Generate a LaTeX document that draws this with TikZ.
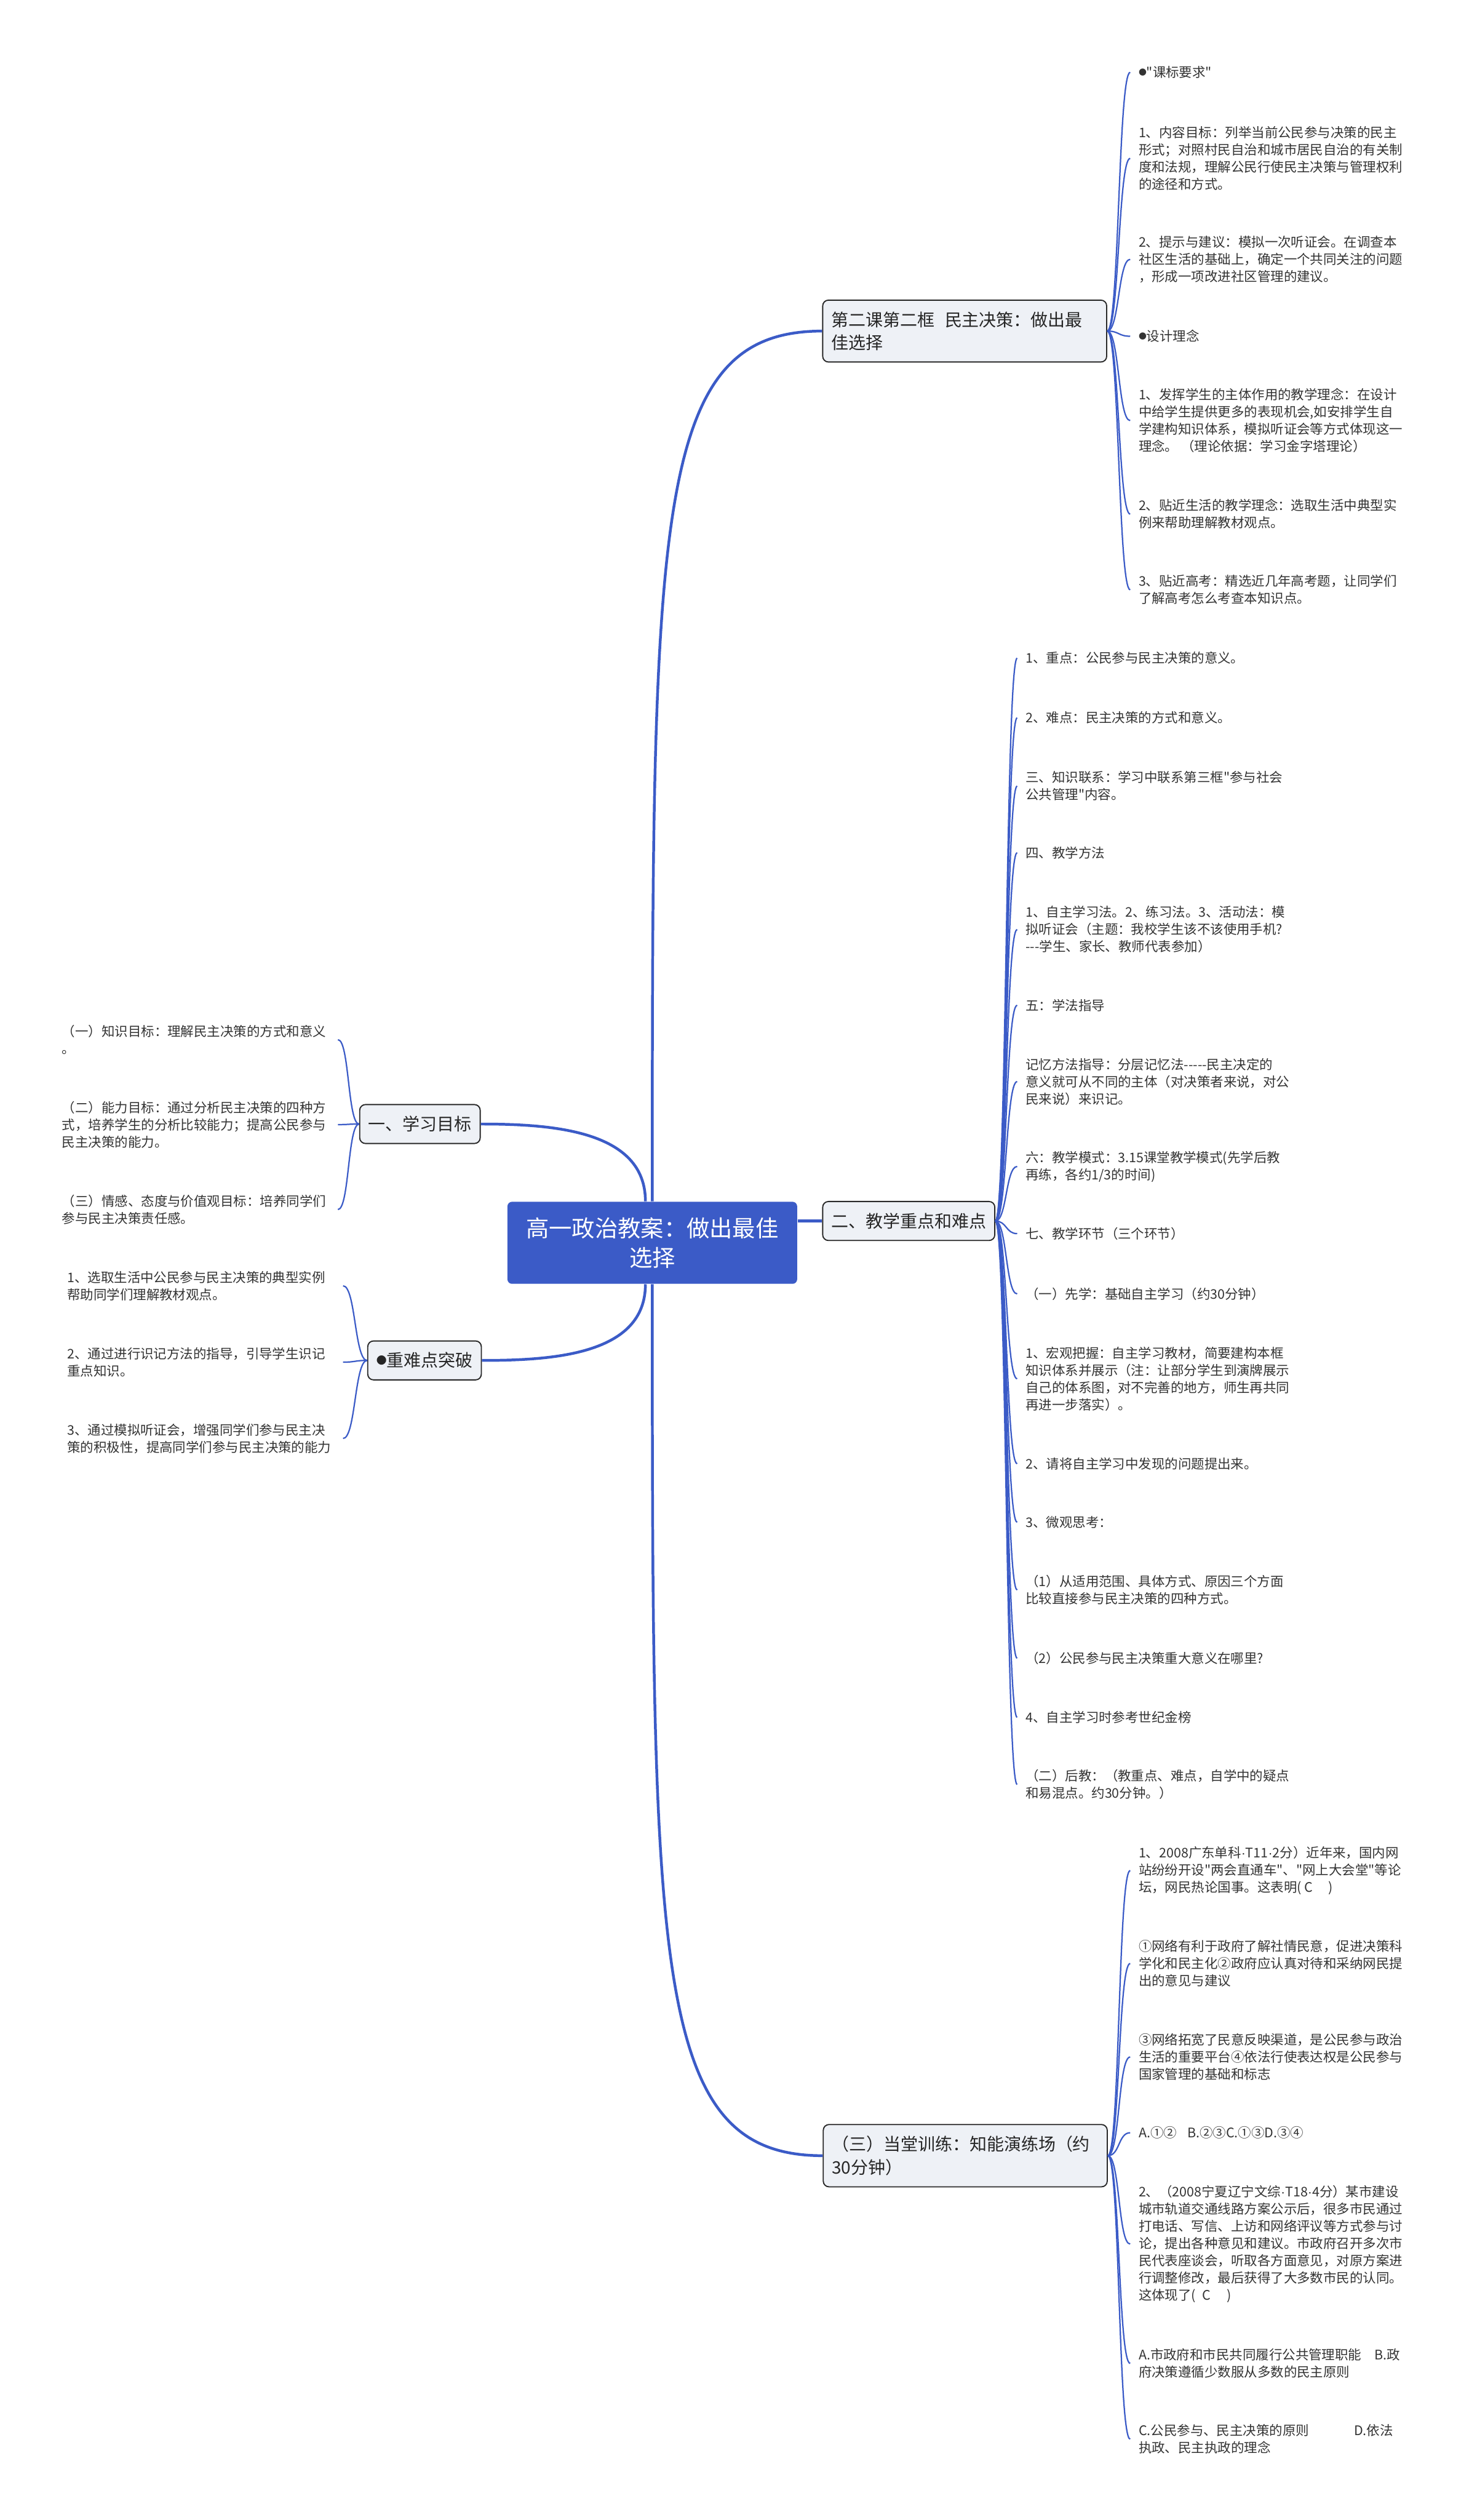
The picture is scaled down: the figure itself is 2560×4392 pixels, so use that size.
\documentclass[tikz,border=0pt]{standalone}
\usepackage{fontspec}
\setmainfont{Noto Sans CJK SC}[Ligatures=TeXOff]
\newfontfamily\latinfont{Liberation Sans}
\usepackage{xcolor}
\usepackage{tikz}
\definecolor{mapblue}{RGB}{59,91,199}
\definecolor{boxfill}{RGB}{238,241,246}
\definecolor{boxline}{RGB}{40,40,40}
\definecolor{leaftext}{RGB}{51,51,51}
\newcommand{\dotmark}{\raisebox{0.15em}{\scalebox{0.6}{●}}}
\newcommand{\mdot}{{\latinfont ·}}
\tikzstyle{mainbox} = [rectangle, rounded corners=2pt, minimum width=126.25pt, minimum height=35.75pt, align=center, fill=mapblue, text=white, font=\fontsize{10pt}{13pt}\selectfont]
\tikzstyle{topicbox} = [rectangle, rounded corners=2.5pt, inner xsep=3.75pt, inner ysep=5pt, align=left, draw=boxline, line width=0.5pt, fill=boxfill, text=black!85, font=\fontsize{7.5pt}{10pt}\selectfont]
\tikzstyle{leafnote} = [inner xsep=3.5pt, inner ysep=2pt, align=left, text=leaftext, font=\fontsize{5.75pt}{7.5pt}\selectfont]
\tikzstyle{limb} = [mapblue, line width=1.2pt]
\tikzstyle{twig} = [mapblue, line width=0.6pt]

\begin{document}
\begin{tikzpicture}[x=0.25pt, y=-0.25pt]

\fill [white] (0,0) rectangle (2560,4392);
\useasboundingbox (0,0) rectangle (2560,4392);

\node (main) [mainbox] at (1137,2166) {高一政治教案：做出最佳\\选择};
\node (lesson) [topicbox, text width=116.25pt, anchor=west] at (1433,577) {第二课第二框\hspace{0.6em}民主决策：做出最\\佳选择};
\node (focus) [topicbox, anchor=west] at (1433,2128) {二、教学重点和难点};
\node (drill) [topicbox, text width=116.25pt, anchor=west] at (1434,3757) {（三）当堂训练：知能演练场（约\\30分钟）};
\node (goals) [topicbox, anchor=east] at (838,1959) {一、学习目标};
\node (keys) [topicbox, anchor=east] at (840,2371) {\dotmark 重难点突破};

\node (l1a) [leafnote, anchor=west] at (1970,126) {\dotmark"课标要求"};
\node (l1b) [leafnote, anchor=west] at (1970,276) {1、内容目标：列举当前公民参与决策的民主\\形式；对照村民自治和城市居民自治的有关制\\度和法规，理解公民行使民主决策与管理权利\\的途径和方式。};
\node (l1c) [leafnote, anchor=west] at (1970,452) {2、提示与建议：模拟一次听证会。在调查本\\社区生活的基础上，确定一个共同关注的问题\\，形成一项改进社区管理的建议。};
\node (l1d) [leafnote, anchor=west] at (1970,586) {\dotmark 设计理念};
\node (l1e) [leafnote, anchor=west] at (1970,733) {1、发挥学生的主体作用的教学理念：在设计\\中给学生提供更多的表现机会,如安排学生自\\学建构知识体系，模拟听证会等方式体现这一\\理念。 （理论依据：学习金字塔理论）};
\node (l1f) [leafnote, anchor=west] at (1970,896) {2、贴近生活的教学理念：选取生活中典型实\\例来帮助理解教材观点。};
\node (l1g) [leafnote, anchor=west] at (1970,1028) {3、贴近高考：精选近几年高考题，让同学们\\了解高考怎么考查本知识点。};

\node (l2a) [leafnote, anchor=west] at (1773,1147) {1、重点：公民参与民主决策的意义。};
\node (l2b) [leafnote, anchor=west] at (1773,1251) {2、难点：民主决策的方式和意义。};
\node (l2c) [leafnote, anchor=west] at (1773,1370) {三、知识联系：学习中联系第三框"参与社会\\公共管理"内容。};
\node (l2d) [leafnote, anchor=west] at (1773,1486) {四、教学方法};
\node (l2e) [leafnote, anchor=west] at (1773,1620) {1、自主学习法。2、练习法。3、活动法：模\\拟听证会（主题：我校学生该不该使用手机?\\---学生、家长、教师代表参加）};
\node (l2f) [leafnote, anchor=west] at (1773,1752) {五：学法指导};
\node (l2g) [leafnote, anchor=west] at (1773,1885) {记忆方法指导：分层记忆法-----民主决定的\\意义就可从不同的主体（对决策者来说，对公\\民来说）来识记。};
\node (l2h) [leafnote, anchor=west] at (1773,2033) {六：教学模式：3.15课堂教学模式(先学后教\\再练，各约1/3的时间)};
\node (l2i) [leafnote, anchor=west] at (1773,2150) {七、教学环节（三个环节）};
\node (l2j) [leafnote, anchor=west] at (1773,2255) {（一）先学：基础自主学习（约30分钟）};
\node (l2k) [leafnote, anchor=west] at (1773,2403) {1、宏观把握：自主学习教材，简要建构本框\\知识体系并展示（注：让部分学生到演牌展示\\自己的体系图，对不完善的地方，师生再共同\\再进一步落实）。};
\node (l2l) [leafnote, anchor=west] at (1773,2551) {2、请将自主学习中发现的问题提出来。};
\node (l2m) [leafnote, anchor=west] at (1773,2653) {3、微观思考：};
\node (l2n) [leafnote, anchor=west] at (1773,2771) {（1）从适用范围、具体方式、原因三个方面\\比较直接参与民主决策的四种方式。};
\node (l2o) [leafnote, anchor=west] at (1773,2890) {（2）公民参与民主决策重大意义在哪里?};
\node (l2p) [leafnote, anchor=west] at (1773,2993) {4、自主学习时参考世纪金榜};
\node (l2q) [leafnote, anchor=west] at (1773,3110) {（二）后教：（教重点、难点，自学中的疑点\\和易混点。约30分钟。）};

\node (l3a) [leafnote, anchor=west] at (1970,3260) {1、2008广东单科\mdot T11\mdot 2分）近年来，国内网\\站纷纷开设"两会直通车"、"网上大会堂"等论\\坛，网民热论国事。这表明( C\hspace{1.2em})};
\node (l3b) [leafnote, anchor=west] at (1970,3422) {①网络有利于政府了解社情民意，促进决策科\\学化和民主化②政府应认真对待和采纳网民提\\出的意见与建议};
\node (l3c) [leafnote, anchor=west] at (1970,3585) {③网络拓宽了民意反映渠道，是公民参与政治\\生活的重要平台④依法行使表达权是公民参与\\国家管理的基础和标志};
\node (l3d) [leafnote, anchor=west] at (1970,3717) {A.①②\hspace{0.8em}B.②③C.①③D.③④};
\node (l3e) [leafnote, anchor=west] at (1970,3911) {2、（2008宁夏辽宁文综\mdot T18\mdot 4分）某市建设\\城市轨道交通线路方案公示后，很多市民通过\\打电话、写信、上访和网络评议等方式参与讨\\论，提出各种意见和建议。市政府召开多次市\\民代表座谈会，听取各方面意见，对原方案进\\行调整修改，最后获得了大多数市民的认同。\\这体现了(\hspace{0.5em}C\hspace{1.2em})};
\node (l3f) [leafnote, anchor=west] at (1970,4119) {A.市政府和市民共同履行公共管理职能\hspace{1em}B.政\\府决策遵循少数服从多数的民主原则};
\node (l3g) [leafnote, anchor=west] at (1970,4251) {C.公民参与、民主决策的原则\hspace{3.4em}D.依法\\执政、民主执政的理念};

\node (g1) [leafnote, text width=116.5pt, anchor=east] at (589,1812) {（一）知识目标：理解民主决策的方式和意义\\。};
\node (g2) [leafnote, text width=116.5pt, anchor=east] at (589,1960) {（二）能力目标：通过分析民主决策的四种方\\式，培养学生的分析比较能力；提高公民参与\\民主决策的能力。};
\node (g3) [leafnote, text width=116.5pt, anchor=east] at (589,2108) {（三）情感、态度与价值观目标：培养同学们\\参与民主决策责任感。};
\node (k1) [leafnote, text width=116.5pt, anchor=east] at (598,2241) {1、选取生活中公民参与民主决策的典型实例\\帮助同学们理解教材观点。};
\node (k2) [leafnote, text width=116.5pt, anchor=east] at (598,2374) {2、通过进行识记方法的指导，引导学生识记\\重点知识。};
\node (k3) [leafnote, text width=116.5pt, anchor=east] at (598,2507) {3、通过模拟听证会，增强同学们参与民主决\\策的积极性，提高同学们参与民主决策的能力};

\draw [limb] (main.north) .. controls +(0,-1195) and (main.north |- lesson.west) .. (lesson.west);
\draw [limb] (main.east |- focus.west) -- (focus.west);
\draw [limb] (main.south) .. controls +(0,1196) and (main.south |- drill.west) .. (drill.west);
\draw [limb] ([xshift=-3pt]main.north) to[out=90,in=0] (goals.east);
\draw [limb] ([xshift=-3pt]main.south) to[out=-90,in=0] (keys.east);

\draw [twig] (lesson.east) .. controls +(21,0) and +(-21,0) .. (l1a.west);
\draw [twig] (lesson.east) .. controls +(21,0) and +(-21,0) .. (l1b.west);
\draw [twig] (lesson.east) .. controls +(21,0) and +(-21,0) .. (l1c.west);
\draw [twig] (lesson.east) .. controls +(21,0) and +(-21,0) .. (l1d.west);
\draw [twig] (lesson.east) .. controls +(21,0) and +(-21,0) .. (l1e.west);
\draw [twig] (lesson.east) .. controls +(21,0) and +(-21,0) .. (l1f.west);
\draw [twig] (lesson.east) .. controls +(21,0) and +(-21,0) .. (l1g.west);

\draw [twig] (focus.east) .. controls +(20,0) and +(-20,0) .. (l2a.west);
\draw [twig] (focus.east) .. controls +(20,0) and +(-20,0) .. (l2b.west);
\draw [twig] (focus.east) .. controls +(20,0) and +(-20,0) .. (l2c.west);
\draw [twig] (focus.east) .. controls +(20,0) and +(-20,0) .. (l2d.west);
\draw [twig] (focus.east) .. controls +(20,0) and +(-20,0) .. (l2e.west);
\draw [twig] (focus.east) .. controls +(20,0) and +(-20,0) .. (l2f.west);
\draw [twig] (focus.east) .. controls +(20,0) and +(-20,0) .. (l2g.west);
\draw [twig] (focus.east) .. controls +(20,0) and +(-20,0) .. (l2h.west);
\draw [twig] (focus.east) .. controls +(20,0) and +(-20,0) .. (l2i.west);
\draw [twig] (focus.east) .. controls +(20,0) and +(-20,0) .. (l2j.west);
\draw [twig] (focus.east) .. controls +(20,0) and +(-20,0) .. (l2k.west);
\draw [twig] (focus.east) .. controls +(20,0) and +(-20,0) .. (l2l.west);
\draw [twig] (focus.east) .. controls +(20,0) and +(-20,0) .. (l2m.west);
\draw [twig] (focus.east) .. controls +(20,0) and +(-20,0) .. (l2n.west);
\draw [twig] (focus.east) .. controls +(20,0) and +(-20,0) .. (l2o.west);
\draw [twig] (focus.east) .. controls +(20,0) and +(-20,0) .. (l2p.west);
\draw [twig] (focus.east) .. controls +(20,0) and +(-20,0) .. (l2q.west);

\draw [twig] (drill.east) .. controls +(21,0) and +(-21,0) .. (l3a.west);
\draw [twig] (drill.east) .. controls +(21,0) and +(-21,0) .. (l3b.west);
\draw [twig] (drill.east) .. controls +(21,0) and +(-21,0) .. (l3c.west);
\draw [twig] (drill.east) .. controls +(21,0) and +(-21,0) .. (l3d.west);
\draw [twig] (drill.east) .. controls +(21,0) and +(-21,0) .. (l3e.west);
\draw [twig] (drill.east) .. controls +(21,0) and +(-21,0) .. (l3f.west);
\draw [twig] (drill.east) .. controls +(21,0) and +(-21,0) .. (l3g.west);

\draw [twig] (goals.west) .. controls +(-20,0) and +(20,0) .. (g1.east);
\draw [twig] (goals.west) .. controls +(-20,0) and +(20,0) .. (g2.east);
\draw [twig] (goals.west) .. controls +(-20,0) and +(20,0) .. (g3.east);
\draw [twig] (keys.west) .. controls +(-22,0) and +(22,0) .. (k1.east);
\draw [twig] (keys.west) .. controls +(-22,0) and +(22,0) .. (k2.east);
\draw [twig] (keys.west) .. controls +(-22,0) and +(22,0) .. (k3.east);

\end{tikzpicture}
\end{document}
